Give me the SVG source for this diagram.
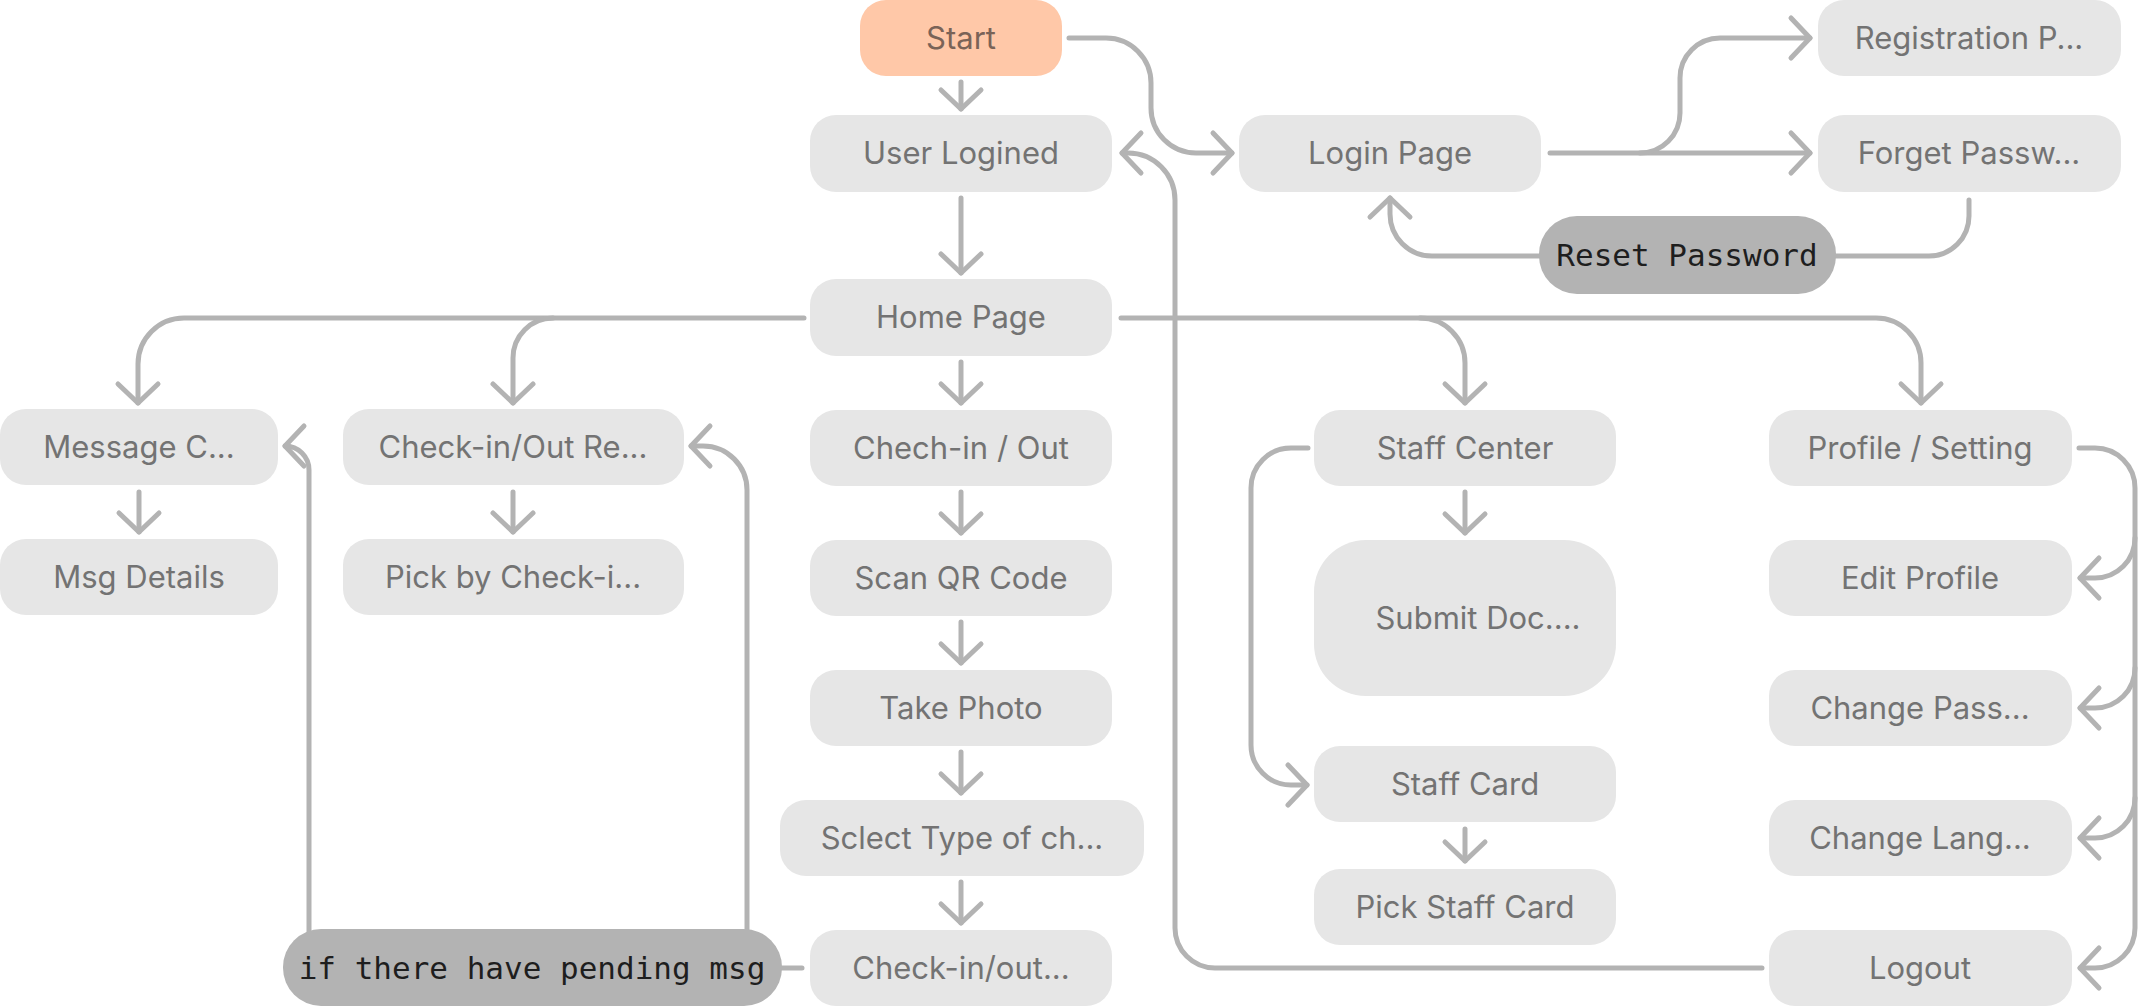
<svg xmlns="http://www.w3.org/2000/svg" width="2140" height="1006" viewBox="0 0 2140 1006">
<style>
.n rect{fill:#e6e6e6}
.n text{font-family:Inter,"Noto Sans",sans-serif;font-size:31px;fill:#737373;text-anchor:middle}
.d rect{fill:#b3b3b3}
.d text{font-family:"DejaVu Sans Mono","Liberation Mono",monospace;font-size:31px;fill:#1e1e1e;text-anchor:middle}
.s rect{fill:#ffc8a8}
.s text{font-family:Inter,"Noto Sans",sans-serif;font-size:31px;fill:#7a6357;text-anchor:middle}
#edges path{fill:none;stroke:#b3b3b3;stroke-width:5;stroke-linecap:round;stroke-linejoin:round}
#edges path.a{marker-end:url(#arr)}
</style>
<defs>
<marker id="arr" markerUnits="userSpaceOnUse" viewBox="-26 -26 32 52" markerWidth="32" markerHeight="52" refX="0" refY="0" orient="auto" overflow="visible">
<path d="M-19,-20 L0,0 L-19,20" fill="none" stroke="#b3b3b3" stroke-width="5" stroke-linecap="round" stroke-linejoin="round"/>
</marker>
</defs>
<g id="edges">
<path class="a" d="M961,82 V109"/>
<path class="a" d="M961,198 V273"/>
<path class="a" d="M961,362 V403"/>
<path class="a" d="M961,492 V533"/>
<path class="a" d="M961,622 V663"/>
<path class="a" d="M961,752 V793"/>
<path class="a" d="M961,882 V923"/>
<path class="a" d="M1069,38 H1106 A45,45 0 0 1 1151,83 V108 A45,45 0 0 0 1196,153 H1232"/>
<path class="a" d="M1550,153 H1810"/>
<path class="a" d="M1640,153 A40,40 0 0 0 1680,113 V78 A40,40 0 0 1 1720,38 H1810"/>
<path class="a" d="M1969,200 V216 A40,40 0 0 1 1929,256 H1432 A42,42 0 0 1 1390,214 V198"/>
<path class="a" d="M804,318 H184 A46,46 0 0 0 138,364 V403"/>
<path class="a" d="M553,318 A40,40 0 0 0 513,358 V403"/>
<path class="a" d="M1121,318 H1876 A45,45 0 0 1 1921,363 V403"/>
<path class="a" d="M1420,318 A45,45 0 0 1 1465,363 V403"/>
<path class="a" d="M139,492 V532"/>
<path class="a" d="M513,492 V532"/>
<path class="a" d="M1465,492 V533"/>
<path class="a" d="M1465,829 V861"/>
<path class="a" d="M1308,448 H1291 A40,40 0 0 0 1251,488 V745 A40,40 0 0 0 1291,785 H1307"/>
<path d="M802,968 H770"/>
<path class="a" d="M309,945 V470 A24,24 0 0 0 285,446"/>
<path class="a" d="M747,945 V490 A44,44 0 0 0 703,446 H691"/>
<path class="a" d="M1762,968 H1215 A40,40 0 0 1 1175,928 V200 A47,47 0 0 0 1128,153 H1122"/>
<path class="a" d="M2079,448 H2095 A40,40 0 0 1 2135,488 V928 A40,40 0 0 1 2095,968 H2080"/>
<path class="a" d="M2135,538 A40,40 0 0 1 2095,578 H2080"/>
<path class="a" d="M2135,668 A40,40 0 0 1 2095,708 H2080"/>
<path class="a" d="M2135,798 A40,40 0 0 1 2095,838 H2080"/>
</g>
<g id="start" class="s"><rect x="860" y="0" width="202" height="76" rx="26"/><text x="961" y="49">Start</text></g>
<g id="user-logined" class="n"><rect x="810" y="115" width="302" height="77" rx="26"/><text x="961" y="164">User Logined</text></g>
<g id="home-page" class="n"><rect x="810" y="279" width="302" height="77" rx="26"/><text x="961" y="328">Home Page</text></g>
<g id="checkin-out" class="n"><rect x="810" y="410" width="302" height="76" rx="26"/><text x="961" y="459">Chech-in / Out</text></g>
<g id="scan-qr" class="n"><rect x="810" y="540" width="302" height="76" rx="26"/><text x="961" y="589">Scan QR Code</text></g>
<g id="take-photo" class="n"><rect x="810" y="670" width="302" height="76" rx="26"/><text x="961" y="719">Take Photo</text></g>
<g id="select-type" class="n"><rect x="780" y="800" width="364" height="76" rx="26"/><text x="962" y="849">Sclect Type of ch...</text></g>
<g id="checkin-out-done" class="n"><rect x="810" y="930" width="302" height="76" rx="26"/><text x="961" y="979">Check-in/out...</text></g>
<g id="pending-msg" class="d"><rect x="283" y="929" width="499" height="77" rx="38"/><text x="532" y="979">if there have pending msg</text></g>
<g id="message-center" class="n"><rect x="0" y="409" width="278" height="76" rx="26"/><text x="139" y="458">Message C...</text></g>
<g id="msg-details" class="n"><rect x="0" y="539" width="278" height="76" rx="26"/><text x="139" y="588">Msg Details</text></g>
<g id="checkin-record" class="n"><rect x="343" y="409" width="341" height="76" rx="26"/><text x="513" y="458">Check-in/Out Re...</text></g>
<g id="pick-checkin" class="n"><rect x="343" y="539" width="341" height="76" rx="26"/><text x="513" y="588">Pick by Check-i...</text></g>
<g id="login-page" class="n"><rect x="1239" y="115" width="302" height="77" rx="26"/><text x="1390" y="164">Login Page</text></g>
<g id="registration" class="n"><rect x="1818" y="0" width="303" height="76" rx="26"/><text x="1969" y="49">Registration P...</text></g>
<g id="forget-password" class="n"><rect x="1818" y="115" width="303" height="77" rx="26"/><text x="1969" y="164">Forget Passw...</text></g>
<g id="reset-password" class="d"><rect x="1539" y="216" width="297" height="78" rx="38"/><text x="1687" y="266">Reset Password</text></g>
<g id="staff-center" class="n"><rect x="1314" y="410" width="302" height="76" rx="26"/><text x="1465" y="459">Staff Center</text></g>
<g id="submit-doc" class="n"><rect x="1314" y="540" width="302" height="156" rx="52"/><text x="1478" y="629">Submit Doc....</text></g>
<g id="staff-card" class="n"><rect x="1314" y="746" width="302" height="76" rx="26"/><text x="1465" y="795">Staff Card</text></g>
<g id="pick-staff-card" class="n"><rect x="1314" y="869" width="302" height="76" rx="26"/><text x="1465" y="918">Pick Staff Card</text></g>
<g id="profile-setting" class="n"><rect x="1769" y="410" width="303" height="76" rx="26"/><text x="1920" y="459">Profile / Setting</text></g>
<g id="edit-profile" class="n"><rect x="1769" y="540" width="303" height="76" rx="26"/><text x="1920" y="589">Edit Profile</text></g>
<g id="change-password" class="n"><rect x="1769" y="670" width="303" height="76" rx="26"/><text x="1920" y="719">Change Pass...</text></g>
<g id="change-language" class="n"><rect x="1769" y="800" width="303" height="76" rx="26"/><text x="1920" y="849">Change Lang...</text></g>
<g id="logout" class="n"><rect x="1769" y="930" width="303" height="76" rx="26"/><text x="1920" y="979">Logout</text></g>
</svg>
